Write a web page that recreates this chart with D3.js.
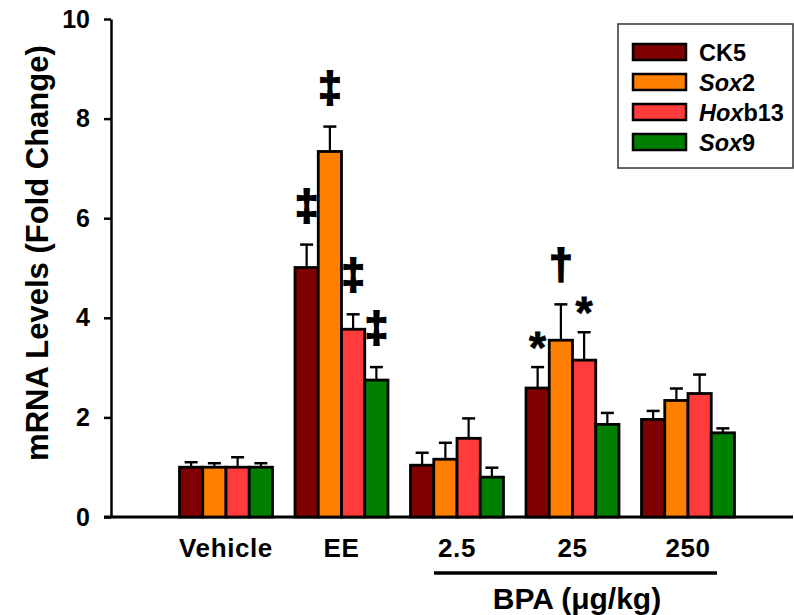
<!DOCTYPE html>
<html>
<head>
<meta charset="utf-8">
<script src="https://cdn.jsdelivr.net/npm/d3@7"></script>
<style>
  body { margin: 0; background: #fff; }
  text { font-family: "Liberation Sans", Arial, sans-serif; font-weight: bold; }
</style>
</head>
<body>
<div id="chart"></div>
<script>
    var w = 794;
    var h = 615;

    // data
    var groups = ['Vehicle', 'EE', '2.5', '25', '250'];
    var genes = ['CK5', 'Sox2', 'Hoxb13', 'Sox9'];
    var colors = ['#7f0000', '#ff8000', '#ff3b3b', '#007f00'];
    var means = {
        CK5:    [1.00, 5.01, 1.04, 2.59, 1.96],
        Sox2:   [1.00, 7.34, 1.16, 3.55, 2.34],
        Hoxb13: [1.00, 3.77, 1.58, 3.15, 2.48],
        Sox9:   [1.00, 2.75, 0.80, 1.86, 1.69]
    };
    var errs = {
        CK5:    [0.10, 0.46, 0.25, 0.42, 0.17],
        Sox2:   [0.08, 0.50, 0.33, 0.72, 0.24],
        Hoxb13: [0.20, 0.30, 0.40, 0.56, 0.38],
        Sox9:   [0.08, 0.26, 0.19, 0.23, 0.09]
    };
    var yTicks = [0, 2, 4, 6, 8, 10];
    var marks = [
        { group: 'EE', gene: 'CK5', sym: '\u2021' },
        { group: 'EE', gene: 'Sox2', sym: '\u2021' },
        { group: 'EE', gene: 'Hoxb13', sym: '\u2021' },
        { group: 'EE', gene: 'Sox9', sym: '\u2021' },
        { group: '25', gene: 'CK5', sym: '*' },
        { group: '25', gene: 'Sox2', sym: '\u2020' },
        { group: '25', gene: 'Hoxb13', sym: '*' }
    ];
    var legendLabels = [
        [{ t: 'CK5', i: false }],
        [{ t: 'Sox', i: true }, { t: '2', i: false }],
        [{ t: 'Hox', i: true }, { t: 'b13', i: false }],
        [{ t: 'Sox', i: true }, { t: '9', i: false }]
    ];

    var axisX = 111, axisRight = 793;
    var y = d3.scaleLinear().domain([0, 10]).range([517, 19]);
    var x = d3.scaleBand()
              .domain(groups)
              .range([168.25, 745.75])
              .paddingInner(0.195)
              .paddingOuter(0.0975);
    var xs = d3.scaleBand().domain(genes).range([0, x.bandwidth()]);
    var color = d3.scaleOrdinal().domain(genes).range(colors);

    var svg = d3.select('#chart').append('svg')
               .attr('width', w)
               .attr('height', h);

    // y axis
    var yAxis = d3.axisLeft(y)
                  .tickValues(yTicks)
                  .tickSizeInner(7)
                  .tickSizeOuter(0)
                  .tickPadding(14);
    var gy = svg.append('g')
        .attr('transform', 'translate(' + axisX + ',0)')
        .call(yAxis);
    gy.select('.domain').attr('stroke', '#000').attr('stroke-width', 2.5);
    gy.selectAll('.tick line').attr('stroke', '#000').attr('stroke-width', 2.5);
    gy.selectAll('.tick text')
      .style('font-size', '25px')
      .style('font-weight', 'bold')
      .attr('fill', '#000');

    // x axis baseline
    svg.append('line')
        .attr('x1', axisX - 7).attr('x2', axisRight)
        .attr('y1', y(0)).attr('y2', y(0))
        .attr('stroke', '#000').attr('stroke-width', 3);

    // x labels
    svg.selectAll('.xlab')
        .data(groups)
        .enter().append('text')
        .attr('class', 'xlab')
        .attr('x', function(d) { return x(d) + x.bandwidth() / 2; })
        .attr('y', 557)
        .attr('text-anchor', 'middle')
        .style('font-size', '26px')
        .style('letter-spacing', '0.6px')
        .text(function(d) { return d; });

    // BPA bracket
    svg.append('line')
        .attr('x1', 434).attr('x2', 717)
        .attr('y1', 573).attr('y2', 573)
        .attr('stroke', '#000').attr('stroke-width', 3.5);
    svg.append('text')
        .attr('x', 577).attr('y', 609)
        .attr('text-anchor', 'middle')
        .style('font-size', '30px')
        .text('BPA (\u03bcg/kg)');

    // y title
    svg.append('text')
        .attr('transform', 'translate(48,' + y(5.3) + ') rotate(-90)')
        .attr('text-anchor', 'middle')
        .style('font-size', '31px')
        .text('mRNA Levels (Fold Change)');

    // bars
    var rows = [];
    groups.forEach(function(g, gi) {
        genes.forEach(function(s) {
            rows.push({ group: g, gene: s, v: means[s][gi], e: errs[s][gi] });
        });
    });

    var bar = svg.selectAll('.bar')
        .data(rows)
        .enter().append('g')
        .attr('class', 'bar')
        .attr('transform', function(d) {
            return 'translate(' + (x(d.group) + xs(d.gene)) + ',0)';
        });

    var cw = xs.bandwidth();
    bar.append('line')
        .attr('x1', cw / 2).attr('x2', cw / 2)
        .attr('y1', function(d) { return y(d.v); })
        .attr('y2', function(d) { return y(d.v + d.e); })
        .attr('stroke', '#000').attr('stroke-width', 2.2);
    bar.append('line')
        .attr('x1', cw / 2 - 6.5).attr('x2', cw / 2 + 6.5)
        .attr('y1', function(d) { return y(d.v + d.e); })
        .attr('y2', function(d) { return y(d.v + d.e); })
        .attr('stroke', '#000').attr('stroke-width', 2.5);
    bar.append('rect')
        .attr('x', 0)
        .attr('y', function(d) { return y(d.v); })
        .attr('width', cw)
        .attr('height', function(d) { return y(0) - y(d.v); })
        .attr('fill', function(d) { return color(d.gene); })
        .attr('stroke', '#000')
        .attr('stroke-width', 2.8);

    // significance marks
    svg.selectAll('.sig')
        .data(marks)
        .enter().append('text')
        .attr('class', 'sig')
        .attr('x', function(d) { return x(d.group) + xs(d.gene) + cw / 2; })
        .attr('y', function(d) {
            var gi = groups.indexOf(d.group);
            var top = y(means[d.gene][gi] + errs[d.gene][gi]);
            return d.sym === '*' ? top - 4 : top - 25;
        })
        .attr('text-anchor', 'middle')
        .attr('stroke', '#000')
        .attr('stroke-width', function(d) { return d.sym === '*' ? 0.8 : 2; })
        .style('font-size', function(d) { return d.sym === '*' ? '44px' : '42px'; })
        .text(function(d) { return d.sym; });

    // legend
    var lg = svg.append('g');
    lg.append('rect')
        .attr('x', 618).attr('y', 24)
        .attr('width', 175).attr('height', 144)
        .attr('fill', '#fff').attr('stroke', '#333').attr('stroke-width', 1.5);
    var item = lg.selectAll('.li')
        .data(genes)
        .enter().append('g')
        .attr('class', 'li')
        .attr('transform', function(d, i) { return 'translate(0,' + (52 + i * 30) + ')'; });
    item.append('rect')
        .attr('x', 633).attr('y', -8)
        .attr('width', 53).attr('height', 16)
        .attr('fill', function(d) { return color(d); })
        .attr('stroke', '#000').attr('stroke-width', 2.5);
    var lt = item.append('text')
        .attr('x', 699).attr('y', 8.5)
        .style('font-size', '23.5px');
    lt.each(function(d, i) {
        var t = d3.select(this);
        legendLabels[i].forEach(function(p) {
            t.append('tspan')
             .style('font-style', p.i ? 'italic' : 'normal')
             .text(p.t);
        });
    });
</script>
</body>
</html>
